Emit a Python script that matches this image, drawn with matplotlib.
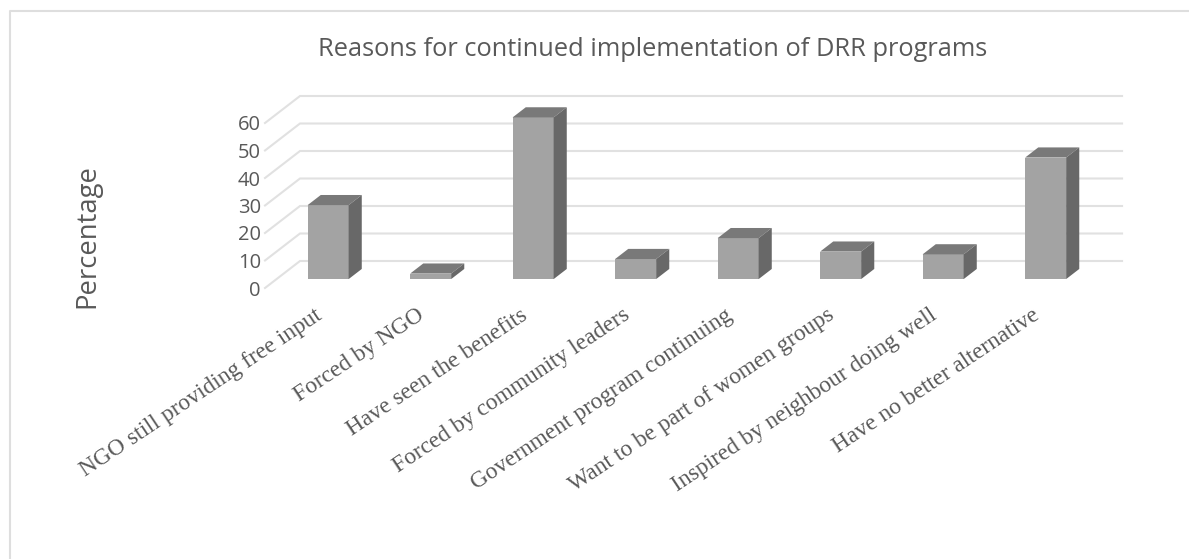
import matplotlib
matplotlib.use('Agg')
import matplotlib.pyplot as plt
from matplotlib.patches import Polygon
from matplotlib.transforms import ScaledTranslation
import numpy as np

categorias = ['NGO still providing free input', 'Forced by NGO', 'Have seen the benefits',
              'Forced by community leaders', 'Government program continuing',
              'Want to be part of women groups', 'Inspired by neighbour doing well',
              'Have no better alternative']
valores = [26.9, 2, 58.8, 7.3, 14.9, 10, 9, 44.2]
yticks = [0, 10, 20, 30, 40, 50, 60]

# depth of the fake 3D box, in data units per unit of depth
dx_z = 35 / 102.5
dy_z = 27 / 2.75
z0 = 0.33      # front face of the bars
zb = 0.375     # depth of a bar
largura = 0.4

cor_frente = '#a3a3a3'
cor_topo = '#797979'
cor_lado = '#686868'
cor_grade = '#e1e1e1'
cor_texto = '#595959'

W, H = 1189, 559
fig = plt.figure(figsize=(W / 100, H / 100), dpi=100)
ax = fig.add_axes([265 / W, (H - 288) / H, (1085 - 265) / W, (288 - 123) / H])
ax.set_xlim(-0.5, 7.5)
ax.set_ylim(0, 60)
for s in ax.spines.values():
    s.set_visible(False)

# chart frame, only top and left show up
fig.add_artist(plt.Line2D([1, 9.5 / W, 9.5 / W], [1 - 10.5 / H, 1 - 10.5 / H, 0],
                          transform=fig.transFigure, color='#dedede', lw=1.5))

# floor/wall gridlines
for v in yticks:
    ax.plot([-0.5, -0.5 + dx_z, 7.52 + dx_z], [v, v + dy_z, v + dy_z], color=cor_grade,
            lw=1.5, clip_on=False, zorder=1, solid_joinstyle='miter')

x = np.arange(len(valores))
xc = x + 0.116
ax.bar(xc, valores, largura, bottom=z0 * dy_z, color=cor_frente, zorder=3, clip_on=False)

for xi, v in zip(xc, valores):
    esq = xi - largura / 2
    dir = xi + largura / 2
    base = z0 * dy_z
    topo = base + v
    ddx = zb * dx_z
    ddy = zb * dy_z
    ax.add_patch(Polygon([(esq, topo), (dir, topo), (dir + ddx, topo + ddy), (esq + ddx, topo + ddy)],
                         closed=True, fc=cor_topo, ec='none', zorder=3, clip_on=False))
    ax.add_patch(Polygon([(dir, base), (dir + ddx, base + ddy), (dir + ddx, topo + ddy), (dir, topo)],
                         closed=True, fc=cor_lado, ec='none', zorder=3, clip_on=False))

ax.set_yticks(yticks)
ax.set_yticklabels([str(v) for v in yticks], fontfamily='Open Sans', fontsize=14.5, color=cor_texto)
ax.set_xticks(xc)
ax.set_xticklabels(categorias, rotation=33.7, ha='right', va='top', rotation_mode='anchor',
                   fontfamily='Liberation Serif', fontsize=16.9, color=cor_texto)
ax.tick_params(axis='both', length=0)
ax.tick_params(axis='y', pad=3)
ax.tick_params(axis='x', pad=12)

# slide the category labels left of the bar centres
desloca = ScaledTranslation(-10 / 72, 0, fig.dpi_scale_trans)
for lab in ax.get_xticklabels():
    lab.set_transform(lab.get_transform() + desloca)

fig.text(653 / W, 1 - 50 / H, 'Reasons for continued implementation of DRR programs', ha='center', va='center',
         fontfamily='Open Sans', fontsize=18.25, color=cor_texto)
fig.text(87 / W, 1 - 236 / H, 'Percentage', rotation=90, ha='center', va='center',
         fontfamily='Open Sans', fontsize=19.8, color=cor_texto)

fig.savefig('out.png', dpi=100, facecolor='white')
